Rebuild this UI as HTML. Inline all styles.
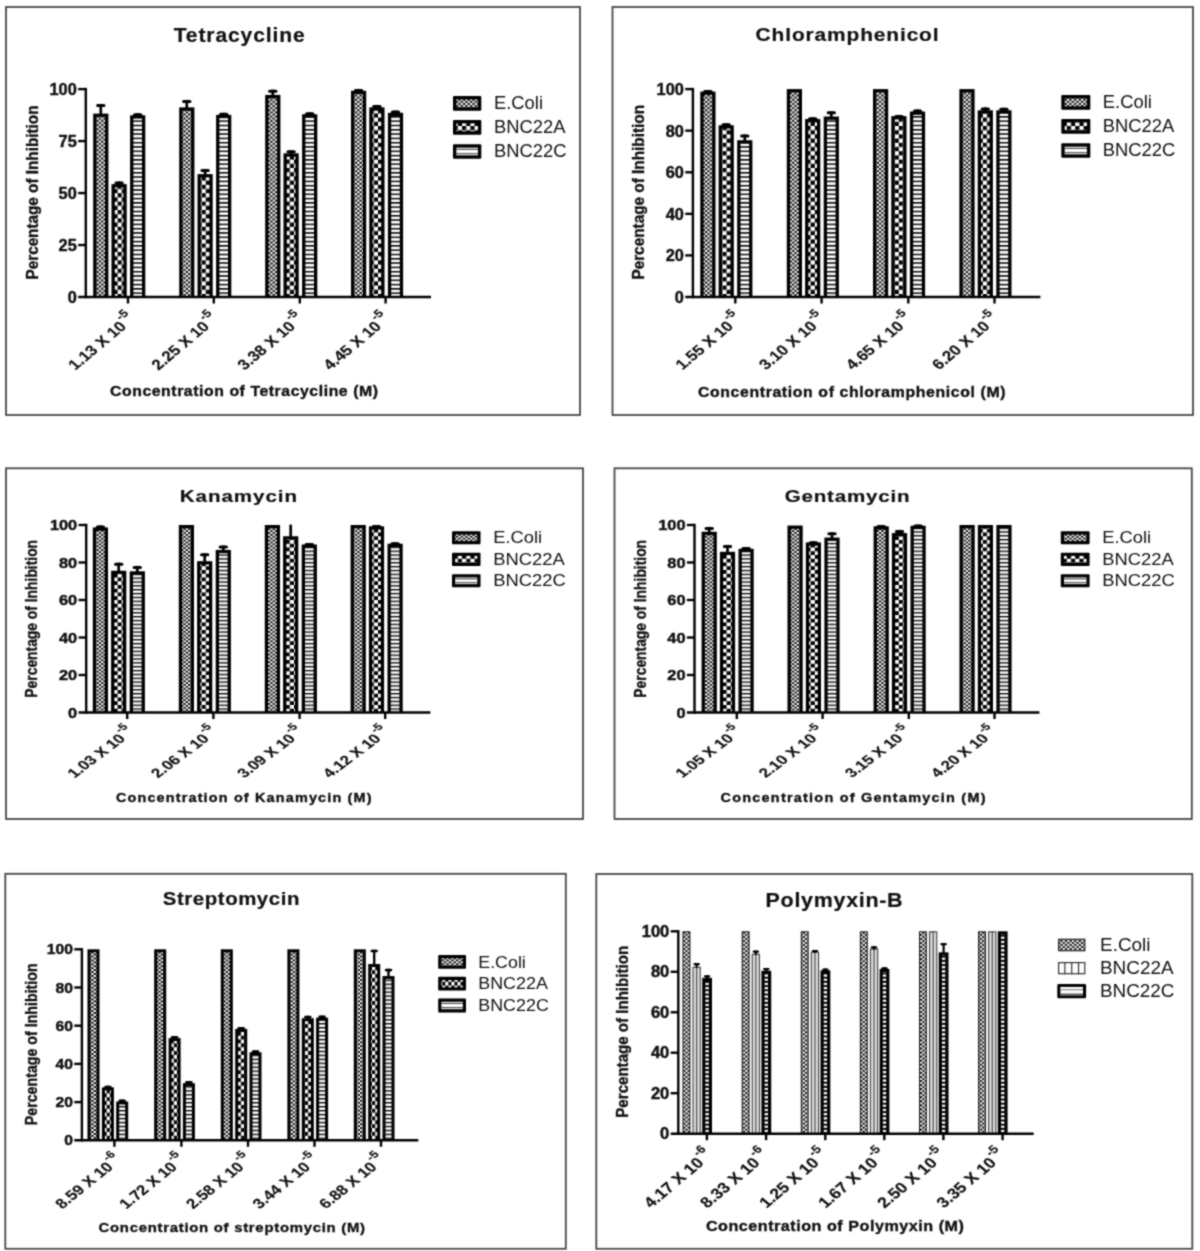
<!DOCTYPE html>
<html><head><meta charset="utf-8"><title>Antibiotic inhibition charts</title>
<style>html,body{margin:0;padding:0;background:#fff}svg{display:block}text{font-family:"Liberation Sans", sans-serif;fill:#111}</style></head><body>
<svg width="1200" height="1251" viewBox="0 0 1200 1251">
<defs>
<pattern id="p_fine" width="4.3" height="4.3" patternUnits="userSpaceOnUse"><rect width="4.3" height="4.3" fill="#fff"/><rect x="0" y="0" width="2.15" height="2.15" fill="#111"/><rect x="2.15" y="2.15" width="2.15" height="2.15" fill="#111"/></pattern>
<pattern id="p_fine2" width="2.6" height="2.6" patternUnits="userSpaceOnUse"><rect width="2.6" height="2.6" fill="#fff"/><rect x="0" y="0" width="1.3" height="1.3" fill="#222"/><rect x="1.3" y="1.3" width="1.3" height="1.3" fill="#222"/></pattern>
<pattern id="p_big" width="8.4" height="8.4" patternUnits="userSpaceOnUse"><rect width="8.4" height="8.4" fill="#fff"/><rect x="0" y="0" width="4.2" height="4.2" fill="#000"/><rect x="4.2" y="4.2" width="4.2" height="4.2" fill="#000"/></pattern>
<pattern id="p_hstripe" width="8" height="4.3" patternUnits="userSpaceOnUse"><rect width="8" height="4.3" fill="#fff"/><rect x="0" y="0" width="8" height="1.5" fill="#000"/></pattern>
<pattern id="p_hstripe_l" width="8" height="2.6" patternUnits="userSpaceOnUse"><rect width="8" height="2.6" fill="#fff"/><rect x="0" y="0" width="8" height="1.0" fill="#333"/></pattern>
<pattern id="p_dash" width="6" height="4.2" patternUnits="userSpaceOnUse"><rect width="6" height="4.2" fill="#000"/><rect x="0" y="0" width="6" height="2.3" fill="#fff"/></pattern>
<pattern id="p_fine_0" width="4.7" height="4.2" patternUnits="userSpaceOnUse"><rect width="4.7" height="4.2" fill="#fff"/><rect width="2.35" height="2.1" fill="#111"/><rect x="2.35" y="2.1" width="2.35" height="2.1" fill="#111"/></pattern>
<pattern id="p_big_0" x="0" y="0" width="8.4" height="8.4" patternUnits="userSpaceOnUse"><rect width="8.4" height="8.4" fill="#fff"/><rect width="4.2" height="4.2" fill="#000"/><rect x="4.2" y="4.2" width="4.2" height="4.2" fill="#000"/></pattern>
<pattern id="p_hstripe_0" width="8" height="4.3" patternUnits="userSpaceOnUse"><rect width="8" height="4.3" fill="#fff"/><rect width="8" height="1.5" fill="#000"/></pattern>
<pattern id="p_fine_1" width="4.7" height="4.2" patternUnits="userSpaceOnUse"><rect width="4.7" height="4.2" fill="#fff"/><rect width="2.35" height="2.1" fill="#111"/><rect x="2.35" y="2.1" width="2.35" height="2.1" fill="#111"/></pattern>
<pattern id="p_big_1" x="0" y="0" width="8.4" height="8.4" patternUnits="userSpaceOnUse"><rect width="8.4" height="8.4" fill="#fff"/><rect width="4.2" height="4.2" fill="#000"/><rect x="4.2" y="4.2" width="4.2" height="4.2" fill="#000"/></pattern>
<pattern id="p_hstripe_1" width="8" height="4.3" patternUnits="userSpaceOnUse"><rect width="8" height="4.3" fill="#fff"/><rect width="8" height="1.5" fill="#000"/></pattern>
<pattern id="p_fine_2" width="4.7" height="3.8" patternUnits="userSpaceOnUse"><rect width="4.7" height="3.8" fill="#fff"/><rect width="2.35" height="1.9" fill="#111"/><rect x="2.35" y="1.9" width="2.35" height="1.9" fill="#111"/></pattern>
<pattern id="p_big_2" x="0" y="0" width="8.4" height="7.5" patternUnits="userSpaceOnUse"><rect width="8.4" height="7.5" fill="#fff"/><rect width="4.2" height="3.75" fill="#000"/><rect x="4.2" y="3.75" width="4.2" height="3.75" fill="#000"/></pattern>
<pattern id="p_hstripe_2" width="8" height="3.85" patternUnits="userSpaceOnUse"><rect width="8" height="3.85" fill="#fff"/><rect width="8" height="1.35" fill="#000"/></pattern>
<pattern id="p_fine_3" width="4.7" height="3.8" patternUnits="userSpaceOnUse"><rect width="4.7" height="3.8" fill="#fff"/><rect width="2.35" height="1.9" fill="#111"/><rect x="2.35" y="1.9" width="2.35" height="1.9" fill="#111"/></pattern>
<pattern id="p_big_3" x="0" y="0" width="8.4" height="7.5" patternUnits="userSpaceOnUse"><rect width="8.4" height="7.5" fill="#fff"/><rect width="4.2" height="3.75" fill="#000"/><rect x="4.2" y="3.75" width="4.2" height="3.75" fill="#000"/></pattern>
<pattern id="p_hstripe_3" width="8" height="3.85" patternUnits="userSpaceOnUse"><rect width="8" height="3.85" fill="#fff"/><rect width="8" height="1.35" fill="#000"/></pattern>
<pattern id="p_fine_4" width="4.8" height="3.9" patternUnits="userSpaceOnUse"><rect width="4.8" height="3.9" fill="#fff"/><rect width="2.4" height="1.95" fill="#111"/><rect x="2.4" y="1.95" width="2.4" height="1.95" fill="#111"/></pattern>
<pattern id="p_big_4" x="0" y="0" width="6.1" height="7.7" patternUnits="userSpaceOnUse"><rect width="6.1" height="7.7" fill="#fff"/><rect width="3.05" height="3.85" fill="#000"/><rect x="3.05" y="3.85" width="3.05" height="3.85" fill="#000"/></pattern>
<pattern id="p_hstripe_4" width="8" height="3.95" patternUnits="userSpaceOnUse"><rect width="8" height="3.95" fill="#fff"/><rect width="8" height="1.4" fill="#000"/></pattern>
<pattern id="p_fine_5" width="4.6" height="4.06" patternUnits="userSpaceOnUse"><rect width="4.6" height="4.06" fill="#fff"/><rect width="2.3" height="2.03" fill="#111"/><rect x="2.3" y="2.03" width="2.3" height="2.03" fill="#111"/></pattern>
<pattern id="p_big_5" x="0" y="0" width="8.4" height="8.4" patternUnits="userSpaceOnUse"><rect width="8.4" height="8.4" fill="#fff"/><rect width="4.2" height="4.2" fill="#000"/><rect x="4.2" y="4.2" width="4.2" height="4.2" fill="#000"/></pattern>
<pattern id="p_hstripe_5" width="8" height="4.3" patternUnits="userSpaceOnUse"><rect width="8" height="4.3" fill="#fff"/><rect width="8" height="1.5" fill="#000"/></pattern>
<filter id="bl" color-interpolation-filters="sRGB" filterUnits="userSpaceOnUse" x="0" y="0" width="1200" height="1251"><feConvolveMatrix order="3" kernelMatrix="1 2 1 2 8 2 1 2 1" divisor="20" edgeMode="duplicate" preserveAlpha="false"/></filter>
</defs>
<rect width="1200" height="1251" fill="#fff"/>
<g filter="url(#bl)">
<rect x="6" y="7" width="574" height="408" fill="#fff" stroke="#484848" stroke-width="1.8"/>
<g transform="translate(173.70,41.60) scale(1.07,1)"><text x="0.00" y="0.00" font-size="19.7" font-weight="bold" text-anchor="start" textLength="122.43" lengthAdjust="spacing" stroke="#111" stroke-width="0.2">Tetracycline</text></g>
<rect x="93.20" y="113.63" width="15.20" height="183.37" fill="#000"/>
<rect x="96.50" y="116.93" width="8.60" height="180.07" fill="url(#p_fine_0)"/>
<line x1="100.80" y1="114.63" x2="100.80" y2="104.07" stroke="#000" stroke-width="2.7"/>
<line x1="97.65" y1="105.57" x2="103.95" y2="105.57" stroke="#000" stroke-width="3.0" stroke-linecap="round"/>
<rect x="111.50" y="184.11" width="15.20" height="112.89" fill="#000"/>
<rect x="114.80" y="187.41" width="8.60" height="109.59" fill="url(#p_big_0)"/>
<line x1="119.10" y1="185.11" x2="119.10" y2="181.41" stroke="#000" stroke-width="2.7"/>
<line x1="115.95" y1="182.91" x2="122.25" y2="182.91" stroke="#000" stroke-width="3.0" stroke-linecap="round"/>
<rect x="130.10" y="115.30" width="15.20" height="181.70" fill="#000"/>
<rect x="133.40" y="118.60" width="8.60" height="178.40" fill="url(#p_hstripe_0)"/>
<line x1="137.70" y1="116.30" x2="137.70" y2="113.22" stroke="#000" stroke-width="2.7"/>
<line x1="134.55" y1="114.72" x2="140.85" y2="114.72" stroke="#000" stroke-width="3.0" stroke-linecap="round"/>
<rect x="179.20" y="107.40" width="15.20" height="189.60" fill="#000"/>
<rect x="182.50" y="110.70" width="8.60" height="186.30" fill="url(#p_fine_0)"/>
<line x1="186.80" y1="108.40" x2="186.80" y2="99.91" stroke="#000" stroke-width="2.7"/>
<line x1="183.65" y1="101.41" x2="189.95" y2="101.41" stroke="#000" stroke-width="3.0" stroke-linecap="round"/>
<rect x="197.50" y="174.13" width="15.20" height="122.87" fill="#000"/>
<rect x="200.80" y="177.43" width="8.60" height="119.57" fill="url(#p_big_0)"/>
<line x1="205.10" y1="175.13" x2="205.10" y2="168.93" stroke="#000" stroke-width="2.7"/>
<line x1="201.95" y1="170.43" x2="208.25" y2="170.43" stroke="#000" stroke-width="3.0" stroke-linecap="round"/>
<rect x="216.10" y="114.88" width="15.20" height="182.12" fill="#000"/>
<rect x="219.40" y="118.18" width="8.60" height="178.82" fill="url(#p_hstripe_0)"/>
<line x1="223.70" y1="115.88" x2="223.70" y2="112.80" stroke="#000" stroke-width="2.7"/>
<line x1="220.55" y1="114.30" x2="226.85" y2="114.30" stroke="#000" stroke-width="3.0" stroke-linecap="round"/>
<rect x="265.20" y="94.92" width="15.20" height="202.08" fill="#000"/>
<rect x="268.50" y="98.22" width="8.60" height="198.78" fill="url(#p_fine_0)"/>
<line x1="272.80" y1="95.92" x2="272.80" y2="89.72" stroke="#000" stroke-width="2.7"/>
<line x1="269.65" y1="91.22" x2="275.95" y2="91.22" stroke="#000" stroke-width="3.0" stroke-linecap="round"/>
<rect x="283.50" y="153.34" width="15.20" height="143.66" fill="#000"/>
<rect x="286.80" y="156.64" width="8.60" height="140.36" fill="url(#p_big_0)"/>
<line x1="291.10" y1="154.34" x2="291.10" y2="150.22" stroke="#000" stroke-width="2.7"/>
<line x1="287.95" y1="151.72" x2="294.25" y2="151.72" stroke="#000" stroke-width="3.0" stroke-linecap="round"/>
<rect x="302.10" y="114.26" width="15.20" height="182.74" fill="#000"/>
<rect x="305.40" y="117.56" width="8.60" height="179.44" fill="url(#p_hstripe_0)"/>
<line x1="309.70" y1="115.26" x2="309.70" y2="112.18" stroke="#000" stroke-width="2.7"/>
<line x1="306.55" y1="113.68" x2="312.85" y2="113.68" stroke="#000" stroke-width="3.0" stroke-linecap="round"/>
<rect x="351.00" y="90.76" width="15.20" height="206.24" fill="#000"/>
<rect x="354.30" y="94.06" width="8.60" height="202.94" fill="url(#p_fine_0)"/>
<line x1="358.60" y1="91.76" x2="358.60" y2="88.89" stroke="#000" stroke-width="2.7"/>
<line x1="355.45" y1="90.39" x2="361.75" y2="90.39" stroke="#000" stroke-width="3.0" stroke-linecap="round"/>
<rect x="369.30" y="107.40" width="15.20" height="189.60" fill="#000"/>
<rect x="372.60" y="110.70" width="8.60" height="186.30" fill="url(#p_big_0)"/>
<line x1="376.90" y1="108.40" x2="376.90" y2="104.90" stroke="#000" stroke-width="2.7"/>
<line x1="373.75" y1="106.40" x2="380.05" y2="106.40" stroke="#000" stroke-width="3.0" stroke-linecap="round"/>
<rect x="387.90" y="112.80" width="15.20" height="184.20" fill="#000"/>
<rect x="391.20" y="116.10" width="8.60" height="180.90" fill="url(#p_hstripe_0)"/>
<line x1="395.50" y1="113.80" x2="395.50" y2="110.51" stroke="#000" stroke-width="2.7"/>
<line x1="392.35" y1="112.01" x2="398.65" y2="112.01" stroke="#000" stroke-width="3.0" stroke-linecap="round"/>
<line x1="85.80" y1="87.90" x2="85.80" y2="298.20" stroke="#000" stroke-width="2.4"/>
<line x1="78.20" y1="297.00" x2="431.00" y2="297.00" stroke="#000" stroke-width="2.4"/>
<text x="76.80" y="302.90" font-size="16.8" font-weight="bold" text-anchor="end" textLength="9.10" lengthAdjust="spacingAndGlyphs" stroke="#111" stroke-width="0.45">0</text>
<line x1="78.20" y1="245.03" x2="85.80" y2="245.03" stroke="#000" stroke-width="2.4"/>
<text x="76.80" y="250.93" font-size="16.8" font-weight="bold" text-anchor="end" textLength="18.20" lengthAdjust="spacingAndGlyphs" stroke="#111" stroke-width="0.45">25</text>
<line x1="78.20" y1="193.05" x2="85.80" y2="193.05" stroke="#000" stroke-width="2.4"/>
<text x="76.80" y="198.95" font-size="16.8" font-weight="bold" text-anchor="end" textLength="18.20" lengthAdjust="spacingAndGlyphs" stroke="#111" stroke-width="0.45">50</text>
<line x1="78.20" y1="141.07" x2="85.80" y2="141.07" stroke="#000" stroke-width="2.4"/>
<text x="76.80" y="146.97" font-size="16.8" font-weight="bold" text-anchor="end" textLength="18.20" lengthAdjust="spacingAndGlyphs" stroke="#111" stroke-width="0.45">75</text>
<line x1="78.20" y1="89.10" x2="85.80" y2="89.10" stroke="#000" stroke-width="2.4"/>
<text x="76.80" y="95.00" font-size="16.8" font-weight="bold" text-anchor="end" textLength="27.30" lengthAdjust="spacingAndGlyphs" stroke="#111" stroke-width="0.45">100</text>
<line x1="128.00" y1="297.00" x2="128.00" y2="303.50" stroke="#000" stroke-width="2.4"/>
<g transform="translate(136.10,319.70) scale(1.19,1) rotate(-45)">
<text x="0" y="0" font-size="14.4" font-weight="bold" stroke="#111" stroke-width="0.15" text-anchor="end">1.13 X 10<tspan font-size="11" dx="0.9" dy="-8.35">-5</tspan></text>
</g>
<line x1="213.80" y1="297.00" x2="213.80" y2="303.50" stroke="#000" stroke-width="2.4"/>
<g transform="translate(219.30,319.70) scale(1.19,1) rotate(-45)">
<text x="0" y="0" font-size="14.4" font-weight="bold" stroke="#111" stroke-width="0.15" text-anchor="end">2.25 X 10<tspan font-size="11" dx="0.9" dy="-8.35">-5</tspan></text>
</g>
<line x1="299.80" y1="297.00" x2="299.80" y2="303.50" stroke="#000" stroke-width="2.4"/>
<g transform="translate(305.30,319.70) scale(1.19,1) rotate(-45)">
<text x="0" y="0" font-size="14.4" font-weight="bold" stroke="#111" stroke-width="0.15" text-anchor="end">3.38 X 10<tspan font-size="11" dx="0.9" dy="-8.35">-5</tspan></text>
</g>
<line x1="385.60" y1="297.00" x2="385.60" y2="303.50" stroke="#000" stroke-width="2.4"/>
<g transform="translate(391.10,319.70) scale(1.19,1) rotate(-45)">
<text x="0" y="0" font-size="14.4" font-weight="bold" stroke="#111" stroke-width="0.15" text-anchor="end">4.45 X 10<tspan font-size="11" dx="0.9" dy="-8.35">-5</tspan></text>
</g>
<g transform="translate(37.60,192.50) rotate(-90)"><text x="0.00" y="0.00" font-size="15.6" font-weight="bold" text-anchor="middle" textLength="174.00" lengthAdjust="spacingAndGlyphs" stroke="#111" stroke-width="0.35">Percentage of Inhibition</text></g>
<g transform="translate(110.00,396.40) scale(1.13,1)"><text x="0.00" y="0.00" font-size="14.0" font-weight="bold" text-anchor="start" textLength="237.17" lengthAdjust="spacing" stroke="#111" stroke-width="0.35">Concentration of Tetracycline (M)</text></g>
<rect x="453.00" y="96.00" width="28.30" height="14.70" rx="1" fill="#000"/>
<rect x="456.40" y="99.40" width="21.50" height="7.90" fill="url(#p_fine_0)"/>
<text x="494.00" y="109.30" font-size="17.7" font-weight="normal" text-anchor="start" textLength="49.00" lengthAdjust="spacingAndGlyphs">E.Coli</text>
<rect x="453.00" y="120.00" width="28.30" height="14.70" rx="1" fill="#000"/>
<rect x="456.40" y="123.40" width="21.50" height="7.90" fill="url(#p_big_0)"/>
<text x="494.00" y="133.30" font-size="17.7" font-weight="normal" text-anchor="start" textLength="71.50" lengthAdjust="spacingAndGlyphs">BNC22A</text>
<rect x="453.00" y="144.30" width="28.30" height="14.40" rx="1" fill="#000"/>
<rect x="456.40" y="147.70" width="21.50" height="7.60" fill="#fff"/>
<line x1="456.40" y1="149.37" x2="477.90" y2="149.37" stroke="#444" stroke-width="1.1"/>
<line x1="456.40" y1="153.63" x2="477.90" y2="153.63" stroke="#444" stroke-width="1.1"/>
<text x="494.00" y="157.30" font-size="17.7" font-weight="normal" text-anchor="start" textLength="72.50" lengthAdjust="spacingAndGlyphs">BNC22C</text>
<rect x="612.5" y="7" width="580.5" height="408" fill="#fff" stroke="#484848" stroke-width="1.8"/>
<g transform="translate(755.60,40.50) scale(1.1,1)"><text x="0.00" y="0.00" font-size="19" font-weight="bold" text-anchor="start" textLength="166.36" lengthAdjust="spacing" stroke="#111" stroke-width="0.2">Chloramphenicol</text></g>
<rect x="700.30" y="91.59" width="15.20" height="205.41" fill="#000"/>
<rect x="703.60" y="94.89" width="8.60" height="202.11" fill="url(#p_fine_1)"/>
<line x1="707.90" y1="92.59" x2="707.90" y2="89.93" stroke="#000" stroke-width="2.7"/>
<line x1="704.75" y1="91.43" x2="711.05" y2="91.43" stroke="#000" stroke-width="3.0" stroke-linecap="round"/>
<rect x="718.60" y="125.27" width="15.20" height="171.73" fill="#000"/>
<rect x="721.90" y="128.57" width="8.60" height="168.43" fill="url(#p_big_1)"/>
<line x1="726.20" y1="126.27" x2="726.20" y2="123.20" stroke="#000" stroke-width="2.7"/>
<line x1="723.05" y1="124.70" x2="729.35" y2="124.70" stroke="#000" stroke-width="3.0" stroke-linecap="round"/>
<rect x="737.20" y="140.24" width="15.20" height="156.76" fill="#000"/>
<rect x="740.50" y="143.54" width="8.60" height="153.46" fill="url(#p_hstripe_1)"/>
<line x1="744.80" y1="141.24" x2="744.80" y2="134.42" stroke="#000" stroke-width="2.7"/>
<line x1="741.65" y1="135.92" x2="747.95" y2="135.92" stroke="#000" stroke-width="3.0" stroke-linecap="round"/>
<rect x="786.80" y="89.10" width="15.20" height="207.90" fill="#000"/>
<rect x="790.10" y="92.40" width="8.60" height="204.60" fill="url(#p_fine_1)"/>
<rect x="805.10" y="119.04" width="15.20" height="177.96" fill="#000"/>
<rect x="808.40" y="122.34" width="8.60" height="174.66" fill="url(#p_big_1)"/>
<line x1="812.70" y1="120.04" x2="812.70" y2="117.37" stroke="#000" stroke-width="2.7"/>
<line x1="809.55" y1="118.87" x2="815.85" y2="118.87" stroke="#000" stroke-width="3.0" stroke-linecap="round"/>
<rect x="823.70" y="116.54" width="15.20" height="180.46" fill="#000"/>
<rect x="827.00" y="119.84" width="8.60" height="177.16" fill="url(#p_hstripe_1)"/>
<line x1="831.30" y1="117.54" x2="831.30" y2="111.35" stroke="#000" stroke-width="2.7"/>
<line x1="828.15" y1="112.85" x2="834.45" y2="112.85" stroke="#000" stroke-width="3.0" stroke-linecap="round"/>
<rect x="873.00" y="89.10" width="15.20" height="207.90" fill="#000"/>
<rect x="876.30" y="92.40" width="8.60" height="204.60" fill="url(#p_fine_1)"/>
<rect x="891.30" y="116.13" width="15.20" height="180.87" fill="#000"/>
<rect x="894.60" y="119.43" width="8.60" height="177.57" fill="url(#p_big_1)"/>
<line x1="898.90" y1="117.13" x2="898.90" y2="114.88" stroke="#000" stroke-width="2.7"/>
<line x1="895.75" y1="116.38" x2="902.05" y2="116.38" stroke="#000" stroke-width="3.0" stroke-linecap="round"/>
<rect x="909.90" y="111.55" width="15.20" height="185.45" fill="#000"/>
<rect x="913.20" y="114.85" width="8.60" height="182.15" fill="url(#p_hstripe_1)"/>
<line x1="917.50" y1="112.55" x2="917.50" y2="109.47" stroke="#000" stroke-width="2.7"/>
<line x1="914.35" y1="110.97" x2="920.65" y2="110.97" stroke="#000" stroke-width="3.0" stroke-linecap="round"/>
<rect x="959.40" y="89.10" width="15.20" height="207.90" fill="#000"/>
<rect x="962.70" y="92.40" width="8.60" height="204.60" fill="url(#p_fine_1)"/>
<rect x="977.70" y="110.31" width="15.20" height="186.69" fill="#000"/>
<rect x="981.00" y="113.61" width="8.60" height="183.39" fill="url(#p_big_1)"/>
<line x1="985.30" y1="111.31" x2="985.30" y2="107.40" stroke="#000" stroke-width="2.7"/>
<line x1="982.15" y1="108.90" x2="988.45" y2="108.90" stroke="#000" stroke-width="3.0" stroke-linecap="round"/>
<rect x="996.30" y="110.31" width="15.20" height="186.69" fill="#000"/>
<rect x="999.60" y="113.61" width="8.60" height="183.39" fill="url(#p_hstripe_1)"/>
<line x1="1003.90" y1="111.31" x2="1003.90" y2="107.81" stroke="#000" stroke-width="2.7"/>
<line x1="1000.75" y1="109.31" x2="1007.05" y2="109.31" stroke="#000" stroke-width="3.0" stroke-linecap="round"/>
<line x1="692.90" y1="87.90" x2="692.90" y2="298.20" stroke="#000" stroke-width="2.4"/>
<line x1="685.30" y1="297.00" x2="1040.40" y2="297.00" stroke="#000" stroke-width="2.4"/>
<text x="683.90" y="302.90" font-size="16.8" font-weight="bold" text-anchor="end" textLength="9.10" lengthAdjust="spacingAndGlyphs" stroke="#111" stroke-width="0.45">0</text>
<line x1="685.30" y1="255.42" x2="692.90" y2="255.42" stroke="#000" stroke-width="2.4"/>
<text x="683.90" y="261.32" font-size="16.8" font-weight="bold" text-anchor="end" textLength="18.20" lengthAdjust="spacingAndGlyphs" stroke="#111" stroke-width="0.45">20</text>
<line x1="685.30" y1="213.84" x2="692.90" y2="213.84" stroke="#000" stroke-width="2.4"/>
<text x="683.90" y="219.74" font-size="16.8" font-weight="bold" text-anchor="end" textLength="18.20" lengthAdjust="spacingAndGlyphs" stroke="#111" stroke-width="0.45">40</text>
<line x1="685.30" y1="172.26" x2="692.90" y2="172.26" stroke="#000" stroke-width="2.4"/>
<text x="683.90" y="178.16" font-size="16.8" font-weight="bold" text-anchor="end" textLength="18.20" lengthAdjust="spacingAndGlyphs" stroke="#111" stroke-width="0.45">60</text>
<line x1="685.30" y1="130.68" x2="692.90" y2="130.68" stroke="#000" stroke-width="2.4"/>
<text x="683.90" y="136.58" font-size="16.8" font-weight="bold" text-anchor="end" textLength="18.20" lengthAdjust="spacingAndGlyphs" stroke="#111" stroke-width="0.45">80</text>
<line x1="685.30" y1="89.10" x2="692.90" y2="89.10" stroke="#000" stroke-width="2.4"/>
<text x="683.90" y="95.00" font-size="16.8" font-weight="bold" text-anchor="end" textLength="27.30" lengthAdjust="spacingAndGlyphs" stroke="#111" stroke-width="0.45">100</text>
<line x1="735.30" y1="297.00" x2="735.30" y2="303.50" stroke="#000" stroke-width="2.4"/>
<g transform="translate(743.20,319.50) scale(1.19,1) rotate(-45)">
<text x="0" y="0" font-size="14.4" font-weight="bold" stroke="#111" stroke-width="0.15" text-anchor="end">1.55 X 10<tspan font-size="11" dx="0.9" dy="-8.35">-5</tspan></text>
</g>
<line x1="821.60" y1="297.00" x2="821.60" y2="303.50" stroke="#000" stroke-width="2.4"/>
<g transform="translate(826.90,319.50) scale(1.19,1) rotate(-45)">
<text x="0" y="0" font-size="14.4" font-weight="bold" stroke="#111" stroke-width="0.15" text-anchor="end">3.10 X 10<tspan font-size="11" dx="0.9" dy="-8.35">-5</tspan></text>
</g>
<line x1="908.30" y1="297.00" x2="908.30" y2="303.50" stroke="#000" stroke-width="2.4"/>
<g transform="translate(913.60,319.50) scale(1.19,1) rotate(-45)">
<text x="0" y="0" font-size="14.4" font-weight="bold" stroke="#111" stroke-width="0.15" text-anchor="end">4.65 X 10<tspan font-size="11" dx="0.9" dy="-8.35">-5</tspan></text>
</g>
<line x1="994.50" y1="297.00" x2="994.50" y2="303.50" stroke="#000" stroke-width="2.4"/>
<g transform="translate(999.80,319.50) scale(1.19,1) rotate(-45)">
<text x="0" y="0" font-size="14.4" font-weight="bold" stroke="#111" stroke-width="0.15" text-anchor="end">6.20 X 10<tspan font-size="11" dx="0.9" dy="-8.35">-5</tspan></text>
</g>
<g transform="translate(643.70,192.30) rotate(-90)"><text x="0.00" y="0.00" font-size="15.6" font-weight="bold" text-anchor="middle" textLength="174.60" lengthAdjust="spacingAndGlyphs" stroke="#111" stroke-width="0.35">Percentage of Inhibition</text></g>
<g transform="translate(698.00,396.50) scale(1.13,1)"><text x="0.00" y="0.00" font-size="14.0" font-weight="bold" text-anchor="start" textLength="272.12" lengthAdjust="spacing" stroke="#111" stroke-width="0.35">Concentration of chloramphenicol (M)</text></g>
<rect x="1061.30" y="95.00" width="29.00" height="14.70" rx="1" fill="#000"/>
<rect x="1064.70" y="98.40" width="22.20" height="7.90" fill="url(#p_fine_1)"/>
<text x="1102.80" y="108.30" font-size="17.7" font-weight="normal" text-anchor="start" textLength="49.00" lengthAdjust="spacingAndGlyphs">E.Coli</text>
<rect x="1061.30" y="119.00" width="29.00" height="14.70" rx="1" fill="#000"/>
<rect x="1064.70" y="122.40" width="22.20" height="7.90" fill="url(#p_big_1)"/>
<text x="1102.80" y="132.30" font-size="17.7" font-weight="normal" text-anchor="start" textLength="71.50" lengthAdjust="spacingAndGlyphs">BNC22A</text>
<rect x="1061.30" y="143.30" width="29.00" height="14.40" rx="1" fill="#000"/>
<rect x="1064.70" y="146.70" width="22.20" height="7.60" fill="#fff"/>
<line x1="1064.70" y1="148.37" x2="1086.90" y2="148.37" stroke="#444" stroke-width="1.1"/>
<line x1="1064.70" y1="152.63" x2="1086.90" y2="152.63" stroke="#444" stroke-width="1.1"/>
<text x="1102.80" y="156.30" font-size="17.7" font-weight="normal" text-anchor="start" textLength="72.50" lengthAdjust="spacingAndGlyphs">BNC22C</text>
<rect x="6" y="468.3" width="577" height="350.7" fill="#fff" stroke="#484848" stroke-width="1.8"/>
<g transform="translate(179.80,502.10) scale(1.24,1)"><text x="0.00" y="0.00" font-size="16.6" font-weight="bold" text-anchor="start" textLength="94.60" lengthAdjust="spacing" stroke="#111" stroke-width="0.2">Kanamycin</text></g>
<rect x="92.80" y="527.44" width="15.20" height="185.06" fill="#000"/>
<rect x="96.10" y="530.74" width="8.60" height="181.76" fill="url(#p_fine_2)"/>
<line x1="100.40" y1="528.44" x2="100.40" y2="525.38" stroke="#000" stroke-width="2.7"/>
<line x1="97.25" y1="526.88" x2="103.55" y2="526.88" stroke="#000" stroke-width="3.0" stroke-linecap="round"/>
<rect x="111.10" y="570.75" width="15.20" height="141.75" fill="#000"/>
<rect x="114.40" y="574.05" width="8.60" height="138.45" fill="url(#p_big_2)"/>
<line x1="118.70" y1="571.75" x2="118.70" y2="562.69" stroke="#000" stroke-width="2.7"/>
<line x1="115.55" y1="564.19" x2="121.85" y2="564.19" stroke="#000" stroke-width="3.0" stroke-linecap="round"/>
<rect x="129.70" y="571.31" width="15.20" height="141.19" fill="#000"/>
<rect x="133.00" y="574.61" width="8.60" height="137.89" fill="url(#p_hstripe_2)"/>
<line x1="137.30" y1="572.31" x2="137.30" y2="565.88" stroke="#000" stroke-width="2.7"/>
<line x1="134.15" y1="567.38" x2="140.45" y2="567.38" stroke="#000" stroke-width="3.0" stroke-linecap="round"/>
<rect x="178.80" y="525.00" width="15.20" height="187.50" fill="#000"/>
<rect x="182.10" y="528.30" width="8.60" height="184.20" fill="url(#p_fine_2)"/>
<rect x="197.10" y="561.19" width="15.20" height="151.31" fill="#000"/>
<rect x="200.40" y="564.49" width="8.60" height="148.01" fill="url(#p_big_2)"/>
<line x1="204.70" y1="562.19" x2="204.70" y2="553.31" stroke="#000" stroke-width="2.7"/>
<line x1="201.55" y1="554.81" x2="207.85" y2="554.81" stroke="#000" stroke-width="3.0" stroke-linecap="round"/>
<rect x="215.70" y="549.94" width="15.20" height="162.56" fill="#000"/>
<rect x="219.00" y="553.24" width="8.60" height="159.26" fill="url(#p_hstripe_2)"/>
<line x1="223.30" y1="550.94" x2="223.30" y2="545.62" stroke="#000" stroke-width="2.7"/>
<line x1="220.15" y1="547.12" x2="226.45" y2="547.12" stroke="#000" stroke-width="3.0" stroke-linecap="round"/>
<rect x="264.80" y="525.00" width="15.20" height="187.50" fill="#000"/>
<rect x="268.10" y="528.30" width="8.60" height="184.20" fill="url(#p_fine_2)"/>
<rect x="283.10" y="536.25" width="15.20" height="176.25" fill="#000"/>
<rect x="286.40" y="539.55" width="8.60" height="172.95" fill="url(#p_big_2)"/>
<line x1="290.70" y1="537.25" x2="290.70" y2="524.62" stroke="#000" stroke-width="2.7"/>
<rect x="301.70" y="544.50" width="15.20" height="168.00" fill="#000"/>
<rect x="305.00" y="547.80" width="8.60" height="164.70" fill="url(#p_hstripe_2)"/>
<line x1="309.30" y1="545.50" x2="309.30" y2="543.00" stroke="#000" stroke-width="2.7"/>
<line x1="306.15" y1="544.50" x2="312.45" y2="544.50" stroke="#000" stroke-width="3.0" stroke-linecap="round"/>
<rect x="350.60" y="525.00" width="15.20" height="187.50" fill="#000"/>
<rect x="353.90" y="528.30" width="8.60" height="184.20" fill="url(#p_fine_2)"/>
<rect x="368.90" y="526.31" width="15.20" height="186.19" fill="#000"/>
<rect x="372.20" y="529.61" width="8.60" height="182.89" fill="url(#p_big_2)"/>
<line x1="376.50" y1="527.31" x2="376.50" y2="525.00" stroke="#000" stroke-width="2.7"/>
<line x1="373.35" y1="526.50" x2="379.65" y2="526.50" stroke="#000" stroke-width="3.0" stroke-linecap="round"/>
<rect x="387.50" y="543.75" width="15.20" height="168.75" fill="#000"/>
<rect x="390.80" y="547.05" width="8.60" height="165.45" fill="url(#p_hstripe_2)"/>
<line x1="395.10" y1="544.75" x2="395.10" y2="542.25" stroke="#000" stroke-width="2.7"/>
<line x1="391.95" y1="543.75" x2="398.25" y2="543.75" stroke="#000" stroke-width="3.0" stroke-linecap="round"/>
<line x1="86.20" y1="523.80" x2="86.20" y2="713.70" stroke="#000" stroke-width="2.4"/>
<line x1="78.60" y1="712.50" x2="430.40" y2="712.50" stroke="#000" stroke-width="2.4"/>
<text x="77.20" y="717.60" font-size="14.6" font-weight="bold" text-anchor="end" textLength="9.10" lengthAdjust="spacingAndGlyphs" stroke="#111" stroke-width="0.45">0</text>
<line x1="78.60" y1="675.00" x2="86.20" y2="675.00" stroke="#000" stroke-width="2.4"/>
<text x="77.20" y="680.10" font-size="14.6" font-weight="bold" text-anchor="end" textLength="18.20" lengthAdjust="spacingAndGlyphs" stroke="#111" stroke-width="0.45">20</text>
<line x1="78.60" y1="637.50" x2="86.20" y2="637.50" stroke="#000" stroke-width="2.4"/>
<text x="77.20" y="642.60" font-size="14.6" font-weight="bold" text-anchor="end" textLength="18.20" lengthAdjust="spacingAndGlyphs" stroke="#111" stroke-width="0.45">40</text>
<line x1="78.60" y1="600.00" x2="86.20" y2="600.00" stroke="#000" stroke-width="2.4"/>
<text x="77.20" y="605.10" font-size="14.6" font-weight="bold" text-anchor="end" textLength="18.20" lengthAdjust="spacingAndGlyphs" stroke="#111" stroke-width="0.45">60</text>
<line x1="78.60" y1="562.50" x2="86.20" y2="562.50" stroke="#000" stroke-width="2.4"/>
<text x="77.20" y="567.60" font-size="14.6" font-weight="bold" text-anchor="end" textLength="18.20" lengthAdjust="spacingAndGlyphs" stroke="#111" stroke-width="0.45">80</text>
<line x1="78.60" y1="525.00" x2="86.20" y2="525.00" stroke="#000" stroke-width="2.4"/>
<text x="77.20" y="530.10" font-size="14.6" font-weight="bold" text-anchor="end" textLength="27.30" lengthAdjust="spacingAndGlyphs" stroke="#111" stroke-width="0.45">100</text>
<line x1="127.20" y1="712.50" x2="127.20" y2="719.00" stroke="#000" stroke-width="2.4"/>
<g transform="translate(135.30,732.50) scale(1.19,0.9) rotate(-45)">
<text x="0" y="0" font-size="14.4" font-weight="bold" stroke="#111" stroke-width="0.15" text-anchor="end">1.03 X 10<tspan font-size="11" dx="0.9" dy="-8.35">-5</tspan></text>
</g>
<line x1="213.40" y1="712.50" x2="213.40" y2="719.00" stroke="#000" stroke-width="2.4"/>
<g transform="translate(218.90,732.50) scale(1.19,0.9) rotate(-45)">
<text x="0" y="0" font-size="14.4" font-weight="bold" stroke="#111" stroke-width="0.15" text-anchor="end">2.06 X 10<tspan font-size="11" dx="0.9" dy="-8.35">-5</tspan></text>
</g>
<line x1="299.60" y1="712.50" x2="299.60" y2="719.00" stroke="#000" stroke-width="2.4"/>
<g transform="translate(305.10,732.50) scale(1.19,0.9) rotate(-45)">
<text x="0" y="0" font-size="14.4" font-weight="bold" stroke="#111" stroke-width="0.15" text-anchor="end">3.09 X 10<tspan font-size="11" dx="0.9" dy="-8.35">-5</tspan></text>
</g>
<line x1="385.20" y1="712.50" x2="385.20" y2="719.00" stroke="#000" stroke-width="2.4"/>
<g transform="translate(390.70,732.50) scale(1.19,0.9) rotate(-45)">
<text x="0" y="0" font-size="14.4" font-weight="bold" stroke="#111" stroke-width="0.15" text-anchor="end">4.12 X 10<tspan font-size="11" dx="0.9" dy="-8.35">-5</tspan></text>
</g>
<g transform="translate(37.30,618.80) rotate(-90)"><text x="0.00" y="0.00" font-size="15.6" font-weight="bold" text-anchor="middle" textLength="157.70" lengthAdjust="spacingAndGlyphs" stroke="#111" stroke-width="0.35">Percentage of Inhibition</text></g>
<g transform="translate(115.90,802.00) scale(1.13,1)"><text x="0.00" y="0.00" font-size="12.8" font-weight="bold" text-anchor="start" textLength="226.19" lengthAdjust="spacing" stroke="#111" stroke-width="0.35">Concentration of Kanamycin (M)</text></g>
<rect x="452.00" y="531.30" width="28.50" height="13.00" rx="1" fill="#000"/>
<rect x="455.20" y="534.50" width="22.10" height="6.60" fill="url(#p_fine_2)"/>
<text x="493.20" y="543.00" font-size="15.6" font-weight="normal" text-anchor="start" textLength="49.00" lengthAdjust="spacingAndGlyphs">E.Coli</text>
<rect x="452.00" y="552.70" width="28.50" height="13.20" rx="1" fill="#000"/>
<rect x="455.20" y="555.90" width="22.10" height="6.80" fill="url(#p_big_2)"/>
<text x="493.20" y="564.60" font-size="15.6" font-weight="normal" text-anchor="start" textLength="71.50" lengthAdjust="spacingAndGlyphs">BNC22A</text>
<rect x="452.00" y="574.20" width="28.50" height="13.10" rx="1" fill="#000"/>
<rect x="455.20" y="577.40" width="22.10" height="6.70" fill="#fff"/>
<line x1="455.20" y1="578.87" x2="477.30" y2="578.87" stroke="#444" stroke-width="1.1"/>
<line x1="455.20" y1="582.63" x2="477.30" y2="582.63" stroke="#444" stroke-width="1.1"/>
<text x="493.20" y="586.00" font-size="15.6" font-weight="normal" text-anchor="start" textLength="72.50" lengthAdjust="spacingAndGlyphs">BNC22C</text>
<rect x="614.5" y="468.3" width="577.3" height="350.7" fill="#fff" stroke="#484848" stroke-width="1.8"/>
<g transform="translate(784.70,502.40) scale(1.24,1)"><text x="0.00" y="0.00" font-size="16.6" font-weight="bold" text-anchor="start" textLength="100.81" lengthAdjust="spacing" stroke="#111" stroke-width="0.2">Gentamycin</text></g>
<rect x="701.60" y="531.75" width="15.20" height="180.75" fill="#000"/>
<rect x="704.90" y="535.05" width="8.60" height="177.45" fill="url(#p_fine_3)"/>
<line x1="709.20" y1="532.75" x2="709.20" y2="526.88" stroke="#000" stroke-width="2.7"/>
<line x1="706.05" y1="528.38" x2="712.35" y2="528.38" stroke="#000" stroke-width="3.0" stroke-linecap="round"/>
<rect x="719.90" y="551.81" width="15.20" height="160.69" fill="#000"/>
<rect x="723.20" y="555.11" width="8.60" height="157.39" fill="url(#p_big_3)"/>
<line x1="727.50" y1="552.81" x2="727.50" y2="544.88" stroke="#000" stroke-width="2.7"/>
<line x1="724.35" y1="546.38" x2="730.65" y2="546.38" stroke="#000" stroke-width="3.0" stroke-linecap="round"/>
<rect x="738.50" y="548.81" width="15.20" height="163.69" fill="#000"/>
<rect x="741.80" y="552.11" width="8.60" height="160.39" fill="url(#p_hstripe_3)"/>
<line x1="746.10" y1="549.81" x2="746.10" y2="547.12" stroke="#000" stroke-width="2.7"/>
<line x1="742.95" y1="548.62" x2="749.25" y2="548.62" stroke="#000" stroke-width="3.0" stroke-linecap="round"/>
<rect x="787.50" y="525.56" width="15.20" height="186.94" fill="#000"/>
<rect x="790.80" y="528.86" width="8.60" height="183.64" fill="url(#p_fine_3)"/>
<rect x="805.80" y="542.44" width="15.20" height="170.06" fill="#000"/>
<rect x="809.10" y="545.74" width="8.60" height="166.76" fill="url(#p_big_3)"/>
<line x1="813.40" y1="543.44" x2="813.40" y2="541.31" stroke="#000" stroke-width="2.7"/>
<line x1="810.25" y1="542.81" x2="816.55" y2="542.81" stroke="#000" stroke-width="3.0" stroke-linecap="round"/>
<rect x="824.40" y="537.56" width="15.20" height="174.94" fill="#000"/>
<rect x="827.70" y="540.86" width="8.60" height="171.64" fill="url(#p_hstripe_3)"/>
<line x1="832.00" y1="538.56" x2="832.00" y2="532.31" stroke="#000" stroke-width="2.7"/>
<line x1="828.85" y1="533.81" x2="835.15" y2="533.81" stroke="#000" stroke-width="3.0" stroke-linecap="round"/>
<rect x="873.60" y="526.31" width="15.20" height="186.19" fill="#000"/>
<rect x="876.90" y="529.61" width="8.60" height="182.89" fill="url(#p_fine_3)"/>
<line x1="881.20" y1="527.31" x2="881.20" y2="525.00" stroke="#000" stroke-width="2.7"/>
<line x1="878.05" y1="526.50" x2="884.35" y2="526.50" stroke="#000" stroke-width="3.0" stroke-linecap="round"/>
<rect x="891.90" y="533.06" width="15.20" height="179.44" fill="#000"/>
<rect x="895.20" y="536.36" width="8.60" height="176.14" fill="url(#p_big_3)"/>
<line x1="899.50" y1="534.06" x2="899.50" y2="529.88" stroke="#000" stroke-width="2.7"/>
<line x1="896.35" y1="531.38" x2="902.65" y2="531.38" stroke="#000" stroke-width="3.0" stroke-linecap="round"/>
<rect x="910.50" y="525.75" width="15.20" height="186.75" fill="#000"/>
<rect x="913.80" y="529.05" width="8.60" height="183.45" fill="url(#p_hstripe_3)"/>
<line x1="918.10" y1="526.75" x2="918.10" y2="524.62" stroke="#000" stroke-width="2.7"/>
<line x1="914.95" y1="526.12" x2="921.25" y2="526.12" stroke="#000" stroke-width="3.0" stroke-linecap="round"/>
<rect x="959.50" y="525.00" width="15.20" height="187.50" fill="#000"/>
<rect x="962.80" y="528.30" width="8.60" height="184.20" fill="url(#p_fine_3)"/>
<rect x="977.80" y="525.00" width="15.20" height="187.50" fill="#000"/>
<rect x="981.10" y="528.30" width="8.60" height="184.20" fill="url(#p_big_3)"/>
<rect x="996.40" y="525.00" width="15.20" height="187.50" fill="#000"/>
<rect x="999.70" y="528.30" width="8.60" height="184.20" fill="url(#p_hstripe_3)"/>
<line x1="694.50" y1="523.80" x2="694.50" y2="713.70" stroke="#000" stroke-width="2.4"/>
<line x1="686.90" y1="712.50" x2="1039.40" y2="712.50" stroke="#000" stroke-width="2.4"/>
<text x="685.50" y="717.60" font-size="14.6" font-weight="bold" text-anchor="end" textLength="9.10" lengthAdjust="spacingAndGlyphs" stroke="#111" stroke-width="0.45">0</text>
<line x1="686.90" y1="675.00" x2="694.50" y2="675.00" stroke="#000" stroke-width="2.4"/>
<text x="685.50" y="680.10" font-size="14.6" font-weight="bold" text-anchor="end" textLength="18.20" lengthAdjust="spacingAndGlyphs" stroke="#111" stroke-width="0.45">20</text>
<line x1="686.90" y1="637.50" x2="694.50" y2="637.50" stroke="#000" stroke-width="2.4"/>
<text x="685.50" y="642.60" font-size="14.6" font-weight="bold" text-anchor="end" textLength="18.20" lengthAdjust="spacingAndGlyphs" stroke="#111" stroke-width="0.45">40</text>
<line x1="686.90" y1="600.00" x2="694.50" y2="600.00" stroke="#000" stroke-width="2.4"/>
<text x="685.50" y="605.10" font-size="14.6" font-weight="bold" text-anchor="end" textLength="18.20" lengthAdjust="spacingAndGlyphs" stroke="#111" stroke-width="0.45">60</text>
<line x1="686.90" y1="562.50" x2="694.50" y2="562.50" stroke="#000" stroke-width="2.4"/>
<text x="685.50" y="567.60" font-size="14.6" font-weight="bold" text-anchor="end" textLength="18.20" lengthAdjust="spacingAndGlyphs" stroke="#111" stroke-width="0.45">80</text>
<line x1="686.90" y1="525.00" x2="694.50" y2="525.00" stroke="#000" stroke-width="2.4"/>
<text x="685.50" y="530.10" font-size="14.6" font-weight="bold" text-anchor="end" textLength="27.30" lengthAdjust="spacingAndGlyphs" stroke="#111" stroke-width="0.45">100</text>
<line x1="736.80" y1="712.50" x2="736.80" y2="719.00" stroke="#000" stroke-width="2.4"/>
<g transform="translate(743.40,732.30) scale(1.19,0.9) rotate(-45)">
<text x="0" y="0" font-size="14.4" font-weight="bold" stroke="#111" stroke-width="0.15" text-anchor="end">1.05 X 10<tspan font-size="11" dx="0.9" dy="-8.35">-5</tspan></text>
</g>
<line x1="822.60" y1="712.50" x2="822.60" y2="719.00" stroke="#000" stroke-width="2.4"/>
<g transform="translate(826.60,732.30) scale(1.19,0.9) rotate(-45)">
<text x="0" y="0" font-size="14.4" font-weight="bold" stroke="#111" stroke-width="0.15" text-anchor="end">2.10 X 10<tspan font-size="11" dx="0.9" dy="-8.35">-5</tspan></text>
</g>
<line x1="908.80" y1="712.50" x2="908.80" y2="719.00" stroke="#000" stroke-width="2.4"/>
<g transform="translate(912.80,732.30) scale(1.19,0.9) rotate(-45)">
<text x="0" y="0" font-size="14.4" font-weight="bold" stroke="#111" stroke-width="0.15" text-anchor="end">3.15 X 10<tspan font-size="11" dx="0.9" dy="-8.35">-5</tspan></text>
</g>
<line x1="994.50" y1="712.50" x2="994.50" y2="719.00" stroke="#000" stroke-width="2.4"/>
<g transform="translate(998.50,732.30) scale(1.19,0.9) rotate(-45)">
<text x="0" y="0" font-size="14.4" font-weight="bold" stroke="#111" stroke-width="0.15" text-anchor="end">4.20 X 10<tspan font-size="11" dx="0.9" dy="-8.35">-5</tspan></text>
</g>
<g transform="translate(645.60,618.80) rotate(-90)"><text x="0.00" y="0.00" font-size="15.6" font-weight="bold" text-anchor="middle" textLength="157.70" lengthAdjust="spacingAndGlyphs" stroke="#111" stroke-width="0.35">Percentage of Inhibition</text></g>
<g transform="translate(720.50,802.00) scale(1.13,1)"><text x="0.00" y="0.00" font-size="12.8" font-weight="bold" text-anchor="start" textLength="234.51" lengthAdjust="spacing" stroke="#111" stroke-width="0.35">Concentration of Gentamycin (M)</text></g>
<rect x="1060.80" y="531.30" width="28.80" height="13.00" rx="1" fill="#000"/>
<rect x="1064.00" y="534.50" width="22.40" height="6.60" fill="url(#p_fine_3)"/>
<text x="1102.20" y="543.00" font-size="15.6" font-weight="normal" text-anchor="start" textLength="49.00" lengthAdjust="spacingAndGlyphs">E.Coli</text>
<rect x="1060.80" y="552.70" width="28.80" height="13.20" rx="1" fill="#000"/>
<rect x="1064.00" y="555.90" width="22.40" height="6.80" fill="url(#p_big_3)"/>
<text x="1102.20" y="564.60" font-size="15.6" font-weight="normal" text-anchor="start" textLength="71.50" lengthAdjust="spacingAndGlyphs">BNC22A</text>
<rect x="1060.80" y="574.20" width="28.80" height="13.10" rx="1" fill="#000"/>
<rect x="1064.00" y="577.40" width="22.40" height="6.70" fill="#fff"/>
<line x1="1064.00" y1="578.87" x2="1086.40" y2="578.87" stroke="#444" stroke-width="1.1"/>
<line x1="1064.00" y1="582.63" x2="1086.40" y2="582.63" stroke="#444" stroke-width="1.1"/>
<text x="1102.20" y="586.00" font-size="15.6" font-weight="normal" text-anchor="start" textLength="72.50" lengthAdjust="spacingAndGlyphs">BNC22C</text>
<rect x="5.3" y="873.8" width="560.5" height="375.0" fill="#fff" stroke="#484848" stroke-width="1.8"/>
<g transform="translate(162.80,905.20) scale(1.12,1)"><text x="0.00" y="0.00" font-size="18.2" font-weight="bold" text-anchor="start" textLength="121.96" lengthAdjust="spacing" stroke="#111" stroke-width="0.2">Streptomycin</text></g>
<rect x="87.50" y="949.30" width="12.00" height="191.00" fill="#000"/>
<rect x="90.50" y="952.30" width="6.00" height="188.00" fill="url(#p_fine_4)"/>
<rect x="101.90" y="1087.39" width="12.00" height="52.91" fill="#000"/>
<rect x="104.90" y="1090.39" width="6.00" height="49.91" fill="url(#p_big_4)"/>
<line x1="107.90" y1="1088.39" x2="107.90" y2="1085.67" stroke="#000" stroke-width="2.4"/>
<line x1="105.45" y1="1086.97" x2="110.35" y2="1086.97" stroke="#000" stroke-width="2.6" stroke-linecap="round"/>
<rect x="116.20" y="1101.53" width="12.00" height="38.77" fill="#000"/>
<rect x="119.20" y="1104.53" width="6.00" height="35.77" fill="url(#p_hstripe_4)"/>
<line x1="122.20" y1="1102.53" x2="122.20" y2="1099.62" stroke="#000" stroke-width="2.4"/>
<line x1="119.75" y1="1100.92" x2="124.65" y2="1100.92" stroke="#000" stroke-width="2.6" stroke-linecap="round"/>
<rect x="154.20" y="949.30" width="12.00" height="191.00" fill="#000"/>
<rect x="157.20" y="952.30" width="6.00" height="188.00" fill="url(#p_fine_4)"/>
<rect x="168.60" y="1038.12" width="12.00" height="102.18" fill="#000"/>
<rect x="171.60" y="1041.12" width="6.00" height="99.18" fill="url(#p_big_4)"/>
<line x1="174.60" y1="1039.12" x2="174.60" y2="1036.01" stroke="#000" stroke-width="2.4"/>
<line x1="172.15" y1="1037.31" x2="177.05" y2="1037.31" stroke="#000" stroke-width="2.6" stroke-linecap="round"/>
<rect x="182.90" y="1083.19" width="12.00" height="57.11" fill="#000"/>
<rect x="185.90" y="1086.19" width="6.00" height="54.11" fill="url(#p_hstripe_4)"/>
<line x1="188.90" y1="1084.19" x2="188.90" y2="1081.09" stroke="#000" stroke-width="2.4"/>
<line x1="186.45" y1="1082.39" x2="191.35" y2="1082.39" stroke="#000" stroke-width="2.6" stroke-linecap="round"/>
<rect x="220.80" y="949.30" width="12.00" height="191.00" fill="#000"/>
<rect x="223.80" y="952.30" width="6.00" height="188.00" fill="url(#p_fine_4)"/>
<rect x="235.20" y="1028.95" width="12.00" height="111.35" fill="#000"/>
<rect x="238.20" y="1031.95" width="6.00" height="108.35" fill="url(#p_big_4)"/>
<line x1="241.20" y1="1029.95" x2="241.20" y2="1027.04" stroke="#000" stroke-width="2.4"/>
<line x1="238.75" y1="1028.34" x2="243.65" y2="1028.34" stroke="#000" stroke-width="2.6" stroke-linecap="round"/>
<rect x="249.50" y="1052.25" width="12.00" height="88.05" fill="#000"/>
<rect x="252.50" y="1055.25" width="6.00" height="85.05" fill="url(#p_hstripe_4)"/>
<line x1="255.50" y1="1053.25" x2="255.50" y2="1050.34" stroke="#000" stroke-width="2.4"/>
<line x1="253.05" y1="1051.64" x2="257.95" y2="1051.64" stroke="#000" stroke-width="2.6" stroke-linecap="round"/>
<rect x="287.40" y="949.30" width="12.00" height="191.00" fill="#000"/>
<rect x="290.40" y="952.30" width="6.00" height="188.00" fill="url(#p_fine_4)"/>
<rect x="301.80" y="1018.25" width="12.00" height="122.05" fill="#000"/>
<rect x="304.80" y="1021.25" width="6.00" height="119.05" fill="url(#p_big_4)"/>
<line x1="307.80" y1="1019.25" x2="307.80" y2="1015.77" stroke="#000" stroke-width="2.4"/>
<line x1="305.35" y1="1017.07" x2="310.25" y2="1017.07" stroke="#000" stroke-width="2.6" stroke-linecap="round"/>
<rect x="316.10" y="1017.68" width="12.00" height="122.62" fill="#000"/>
<rect x="319.10" y="1020.68" width="6.00" height="119.62" fill="url(#p_hstripe_4)"/>
<line x1="322.10" y1="1018.68" x2="322.10" y2="1015.58" stroke="#000" stroke-width="2.4"/>
<line x1="319.65" y1="1016.88" x2="324.55" y2="1016.88" stroke="#000" stroke-width="2.6" stroke-linecap="round"/>
<rect x="353.80" y="949.30" width="12.00" height="191.00" fill="#000"/>
<rect x="356.80" y="952.30" width="6.00" height="188.00" fill="url(#p_fine_4)"/>
<rect x="368.20" y="964.01" width="12.00" height="176.29" fill="#000"/>
<rect x="371.20" y="967.01" width="6.00" height="173.29" fill="url(#p_big_4)"/>
<line x1="374.20" y1="965.01" x2="374.20" y2="949.68" stroke="#000" stroke-width="2.4"/>
<line x1="371.75" y1="950.98" x2="376.65" y2="950.98" stroke="#000" stroke-width="2.6" stroke-linecap="round"/>
<rect x="382.50" y="976.04" width="12.00" height="164.26" fill="#000"/>
<rect x="385.50" y="979.04" width="6.00" height="161.26" fill="url(#p_hstripe_4)"/>
<line x1="388.50" y1="977.04" x2="388.50" y2="968.78" stroke="#000" stroke-width="2.4"/>
<line x1="386.05" y1="970.08" x2="390.95" y2="970.08" stroke="#000" stroke-width="2.6" stroke-linecap="round"/>
<line x1="81.90" y1="948.10" x2="81.90" y2="1141.50" stroke="#000" stroke-width="2.4"/>
<line x1="74.30" y1="1140.30" x2="418.30" y2="1140.30" stroke="#000" stroke-width="2.4"/>
<text x="72.90" y="1145.40" font-size="14.6" font-weight="bold" text-anchor="end" textLength="8.70" lengthAdjust="spacingAndGlyphs" stroke="#111" stroke-width="0.45">0</text>
<line x1="74.30" y1="1102.10" x2="81.90" y2="1102.10" stroke="#000" stroke-width="2.4"/>
<text x="72.90" y="1107.20" font-size="14.6" font-weight="bold" text-anchor="end" textLength="17.40" lengthAdjust="spacingAndGlyphs" stroke="#111" stroke-width="0.45">20</text>
<line x1="74.30" y1="1063.90" x2="81.90" y2="1063.90" stroke="#000" stroke-width="2.4"/>
<text x="72.90" y="1069.00" font-size="14.6" font-weight="bold" text-anchor="end" textLength="17.40" lengthAdjust="spacingAndGlyphs" stroke="#111" stroke-width="0.45">40</text>
<line x1="74.30" y1="1025.70" x2="81.90" y2="1025.70" stroke="#000" stroke-width="2.4"/>
<text x="72.90" y="1030.80" font-size="14.6" font-weight="bold" text-anchor="end" textLength="17.40" lengthAdjust="spacingAndGlyphs" stroke="#111" stroke-width="0.45">60</text>
<line x1="74.30" y1="987.50" x2="81.90" y2="987.50" stroke="#000" stroke-width="2.4"/>
<text x="72.90" y="992.60" font-size="14.6" font-weight="bold" text-anchor="end" textLength="17.40" lengthAdjust="spacingAndGlyphs" stroke="#111" stroke-width="0.45">80</text>
<line x1="74.30" y1="949.30" x2="81.90" y2="949.30" stroke="#000" stroke-width="2.4"/>
<text x="72.90" y="954.40" font-size="14.6" font-weight="bold" text-anchor="end" textLength="26.10" lengthAdjust="spacingAndGlyphs" stroke="#111" stroke-width="0.45">100</text>
<line x1="114.40" y1="1140.30" x2="114.40" y2="1146.80" stroke="#000" stroke-width="2.4"/>
<g transform="translate(122.80,1160.60) scale(1.14,0.92) rotate(-45)">
<text x="0" y="0" font-size="15.0" font-weight="bold" stroke="#111" stroke-width="0.15" text-anchor="end">8.59 X 10<tspan font-size="11.4" dx="0.9" dy="-8.70">-6</tspan></text>
</g>
<line x1="181.40" y1="1140.30" x2="181.40" y2="1146.80" stroke="#000" stroke-width="2.4"/>
<g transform="translate(186.90,1160.60) scale(1.14,0.92) rotate(-45)">
<text x="0" y="0" font-size="15.0" font-weight="bold" stroke="#111" stroke-width="0.15" text-anchor="end">1.72 X 10<tspan font-size="11.4" dx="0.9" dy="-8.70">-5</tspan></text>
</g>
<line x1="248.00" y1="1140.30" x2="248.00" y2="1146.80" stroke="#000" stroke-width="2.4"/>
<g transform="translate(253.50,1160.60) scale(1.14,0.92) rotate(-45)">
<text x="0" y="0" font-size="15.0" font-weight="bold" stroke="#111" stroke-width="0.15" text-anchor="end">2.58 X 10<tspan font-size="11.4" dx="0.9" dy="-8.70">-5</tspan></text>
</g>
<line x1="314.50" y1="1140.30" x2="314.50" y2="1146.80" stroke="#000" stroke-width="2.4"/>
<g transform="translate(320.00,1160.60) scale(1.14,0.92) rotate(-45)">
<text x="0" y="0" font-size="15.0" font-weight="bold" stroke="#111" stroke-width="0.15" text-anchor="end">3.44 X 10<tspan font-size="11.4" dx="0.9" dy="-8.70">-5</tspan></text>
</g>
<line x1="381.00" y1="1140.30" x2="381.00" y2="1146.80" stroke="#000" stroke-width="2.4"/>
<g transform="translate(386.50,1160.60) scale(1.14,0.92) rotate(-45)">
<text x="0" y="0" font-size="15.0" font-weight="bold" stroke="#111" stroke-width="0.15" text-anchor="end">6.88 X 10<tspan font-size="11.4" dx="0.9" dy="-8.70">-5</tspan></text>
</g>
<g transform="translate(36.60,1044.30) rotate(-90)"><text x="0.00" y="0.00" font-size="15.6" font-weight="bold" text-anchor="middle" textLength="161.80" lengthAdjust="spacingAndGlyphs" stroke="#111" stroke-width="0.35">Percentage of Inhibition</text></g>
<g transform="translate(98.50,1232.00) scale(1.13,1)"><text x="0.00" y="0.00" font-size="13.2" font-weight="bold" text-anchor="start" textLength="235.93" lengthAdjust="spacing" stroke="#111" stroke-width="0.35">Concentration of streptomycin (M)</text></g>
<rect x="438.20" y="955.00" width="27.80" height="13.80" rx="1" fill="#000"/>
<rect x="441.40" y="958.20" width="21.40" height="7.40" fill="url(#p_fine_4)"/>
<text x="478.30" y="967.50" font-size="16" font-weight="normal" text-anchor="start" textLength="47.50" lengthAdjust="spacingAndGlyphs">E.Coli</text>
<rect x="438.20" y="976.80" width="27.80" height="13.80" rx="1" fill="#000"/>
<rect x="441.40" y="980.00" width="21.40" height="7.40" fill="url(#p_big_4)"/>
<text x="478.30" y="989.30" font-size="16" font-weight="normal" text-anchor="start" textLength="69.50" lengthAdjust="spacingAndGlyphs">BNC22A</text>
<rect x="438.20" y="998.60" width="27.80" height="13.80" rx="1" fill="#000"/>
<rect x="441.40" y="1001.80" width="21.40" height="7.40" fill="#fff"/>
<line x1="441.40" y1="1003.43" x2="462.80" y2="1003.43" stroke="#444" stroke-width="1.1"/>
<line x1="441.40" y1="1007.57" x2="462.80" y2="1007.57" stroke="#444" stroke-width="1.1"/>
<text x="478.30" y="1011.10" font-size="16" font-weight="normal" text-anchor="start" textLength="70.50" lengthAdjust="spacingAndGlyphs">BNC22C</text>
<rect x="596.3" y="874" width="596.0" height="374.79999999999995" fill="#fff" stroke="#484848" stroke-width="1.8"/>
<g transform="translate(765.60,907.00) scale(1.1,1)"><text x="0.00" y="0.00" font-size="19.5" font-weight="bold" text-anchor="start" textLength="124.55" lengthAdjust="spacing" stroke="#111" stroke-width="0.2">Polymyxin-B</text></g>
<rect x="683.05" y="931.85" width="6.80" height="201.85" fill="url(#p_fine_5)" stroke="#1a1a1a" stroke-width="1.1"/>
<rect x="693.05" y="967.27" width="7.20" height="166.43" fill="#dedede" stroke="#3c3c3c" stroke-width="1.1"/>
<line x1="696.65" y1="966.72" x2="696.65" y2="1133.70" stroke="#3c3c3c" stroke-width="1.1"/>
<line x1="696.65" y1="967.72" x2="696.65" y2="963.08" stroke="#000" stroke-width="2.2"/>
<line x1="694.50" y1="964.18" x2="698.80" y2="964.18" stroke="#000" stroke-width="2.2" stroke-linecap="round"/>
<rect x="702.20" y="977.85" width="9.80" height="155.85" fill="#000"/>
<rect x="705.40" y="981.05" width="3.40" height="152.65" fill="url(#p_dash)"/>
<line x1="707.10" y1="978.85" x2="707.10" y2="975.22" stroke="#000" stroke-width="2.2"/>
<line x1="704.95" y1="976.32" x2="709.25" y2="976.32" stroke="#000" stroke-width="2.2" stroke-linecap="round"/>
<rect x="742.25" y="931.85" width="6.80" height="201.85" fill="url(#p_fine_5)" stroke="#1a1a1a" stroke-width="1.1"/>
<rect x="752.25" y="954.32" width="7.20" height="179.38" fill="#dedede" stroke="#3c3c3c" stroke-width="1.1"/>
<line x1="755.85" y1="953.77" x2="755.85" y2="1133.70" stroke="#3c3c3c" stroke-width="1.1"/>
<line x1="755.85" y1="954.77" x2="755.85" y2="950.53" stroke="#000" stroke-width="2.2"/>
<line x1="753.70" y1="951.63" x2="758.00" y2="951.63" stroke="#000" stroke-width="2.2" stroke-linecap="round"/>
<rect x="761.40" y="970.77" width="9.80" height="162.93" fill="#000"/>
<rect x="764.60" y="973.97" width="3.40" height="159.73" fill="url(#p_dash)"/>
<line x1="766.30" y1="971.77" x2="766.30" y2="967.93" stroke="#000" stroke-width="2.2"/>
<line x1="764.15" y1="969.03" x2="768.45" y2="969.03" stroke="#000" stroke-width="2.2" stroke-linecap="round"/>
<rect x="801.35" y="931.85" width="6.80" height="201.85" fill="url(#p_fine_5)" stroke="#1a1a1a" stroke-width="1.1"/>
<rect x="811.35" y="952.29" width="7.20" height="181.41" fill="#dedede" stroke="#3c3c3c" stroke-width="1.1"/>
<line x1="814.95" y1="951.74" x2="814.95" y2="1133.70" stroke="#3c3c3c" stroke-width="1.1"/>
<line x1="814.95" y1="952.74" x2="814.95" y2="949.92" stroke="#000" stroke-width="2.2"/>
<line x1="812.80" y1="951.02" x2="817.10" y2="951.02" stroke="#000" stroke-width="2.2" stroke-linecap="round"/>
<rect x="820.50" y="970.36" width="9.80" height="163.34" fill="#000"/>
<rect x="823.70" y="973.56" width="3.40" height="160.14" fill="url(#p_dash)"/>
<line x1="825.40" y1="971.36" x2="825.40" y2="968.54" stroke="#000" stroke-width="2.2"/>
<line x1="823.25" y1="969.64" x2="827.55" y2="969.64" stroke="#000" stroke-width="2.2" stroke-linecap="round"/>
<rect x="860.45" y="931.85" width="6.80" height="201.85" fill="url(#p_fine_5)" stroke="#1a1a1a" stroke-width="1.1"/>
<rect x="870.45" y="949.05" width="7.20" height="184.65" fill="#dedede" stroke="#3c3c3c" stroke-width="1.1"/>
<line x1="874.05" y1="948.50" x2="874.05" y2="1133.70" stroke="#3c3c3c" stroke-width="1.1"/>
<line x1="874.05" y1="949.50" x2="874.05" y2="946.28" stroke="#000" stroke-width="2.2"/>
<line x1="871.90" y1="947.38" x2="876.20" y2="947.38" stroke="#000" stroke-width="2.2" stroke-linecap="round"/>
<rect x="879.60" y="968.95" width="9.80" height="164.75" fill="#000"/>
<rect x="882.80" y="972.15" width="3.40" height="161.55" fill="url(#p_dash)"/>
<line x1="884.50" y1="969.95" x2="884.50" y2="967.33" stroke="#000" stroke-width="2.2"/>
<line x1="882.35" y1="968.43" x2="886.65" y2="968.43" stroke="#000" stroke-width="2.2" stroke-linecap="round"/>
<rect x="919.55" y="931.85" width="6.80" height="201.85" fill="url(#p_fine_5)" stroke="#1a1a1a" stroke-width="1.1"/>
<rect x="929.55" y="931.85" width="7.20" height="201.85" fill="#dedede" stroke="#3c3c3c" stroke-width="1.1"/>
<line x1="933.15" y1="931.30" x2="933.15" y2="1133.70" stroke="#3c3c3c" stroke-width="1.1"/>
<rect x="938.70" y="952.35" width="9.80" height="181.35" fill="#000"/>
<rect x="941.90" y="955.55" width="3.40" height="178.15" fill="url(#p_dash)"/>
<line x1="943.60" y1="953.35" x2="943.60" y2="943.04" stroke="#000" stroke-width="2.2"/>
<line x1="941.45" y1="944.14" x2="945.75" y2="944.14" stroke="#000" stroke-width="2.2" stroke-linecap="round"/>
<rect x="978.65" y="931.85" width="6.80" height="201.85" fill="url(#p_fine_5)" stroke="#1a1a1a" stroke-width="1.1"/>
<rect x="988.65" y="931.85" width="7.20" height="201.85" fill="#dedede" stroke="#3c3c3c" stroke-width="1.1"/>
<line x1="992.25" y1="931.30" x2="992.25" y2="1133.70" stroke="#3c3c3c" stroke-width="1.1"/>
<rect x="997.80" y="931.30" width="9.80" height="202.40" fill="#000"/>
<rect x="1001.00" y="934.50" width="3.40" height="199.20" fill="url(#p_dash)"/>
<line x1="678.30" y1="930.10" x2="678.30" y2="1134.90" stroke="#000" stroke-width="2.4"/>
<line x1="670.70" y1="1133.70" x2="1033.70" y2="1133.70" stroke="#000" stroke-width="2.4"/>
<text x="669.30" y="1139.20" font-size="15.8" font-weight="bold" text-anchor="end" textLength="9.20" lengthAdjust="spacingAndGlyphs" stroke="#111" stroke-width="0.45">0</text>
<line x1="670.70" y1="1093.22" x2="678.30" y2="1093.22" stroke="#000" stroke-width="2.4"/>
<text x="669.30" y="1098.72" font-size="15.8" font-weight="bold" text-anchor="end" textLength="18.40" lengthAdjust="spacingAndGlyphs" stroke="#111" stroke-width="0.45">20</text>
<line x1="670.70" y1="1052.74" x2="678.30" y2="1052.74" stroke="#000" stroke-width="2.4"/>
<text x="669.30" y="1058.24" font-size="15.8" font-weight="bold" text-anchor="end" textLength="18.40" lengthAdjust="spacingAndGlyphs" stroke="#111" stroke-width="0.45">40</text>
<line x1="670.70" y1="1012.26" x2="678.30" y2="1012.26" stroke="#000" stroke-width="2.4"/>
<text x="669.30" y="1017.76" font-size="15.8" font-weight="bold" text-anchor="end" textLength="18.40" lengthAdjust="spacingAndGlyphs" stroke="#111" stroke-width="0.45">60</text>
<line x1="670.70" y1="971.78" x2="678.30" y2="971.78" stroke="#000" stroke-width="2.4"/>
<text x="669.30" y="977.28" font-size="15.8" font-weight="bold" text-anchor="end" textLength="18.40" lengthAdjust="spacingAndGlyphs" stroke="#111" stroke-width="0.45">80</text>
<line x1="670.70" y1="931.30" x2="678.30" y2="931.30" stroke="#000" stroke-width="2.4"/>
<text x="669.30" y="936.80" font-size="15.8" font-weight="bold" text-anchor="end" textLength="27.60" lengthAdjust="spacingAndGlyphs" stroke="#111" stroke-width="0.45">100</text>
<line x1="706.90" y1="1133.70" x2="706.90" y2="1140.20" stroke="#000" stroke-width="2.4"/>
<g transform="translate(713.90,1155.90) scale(1.19,1) rotate(-45)">
<text x="0" y="0" font-size="14.9" font-weight="bold" stroke="#111" stroke-width="0.15" text-anchor="end">4.17 X 10<tspan font-size="11.4" dx="0.9" dy="-8.64">-6</tspan></text>
</g>
<line x1="766.10" y1="1133.70" x2="766.10" y2="1140.20" stroke="#000" stroke-width="2.4"/>
<g transform="translate(770.10,1155.90) scale(1.19,1) rotate(-45)">
<text x="0" y="0" font-size="14.9" font-weight="bold" stroke="#111" stroke-width="0.15" text-anchor="end">8.33 X 10<tspan font-size="11.4" dx="0.9" dy="-8.64">-6</tspan></text>
</g>
<line x1="825.30" y1="1133.70" x2="825.30" y2="1140.20" stroke="#000" stroke-width="2.4"/>
<g transform="translate(829.30,1155.90) scale(1.19,1) rotate(-45)">
<text x="0" y="0" font-size="14.9" font-weight="bold" stroke="#111" stroke-width="0.15" text-anchor="end">1.25 X 10<tspan font-size="11.4" dx="0.9" dy="-8.64">-5</tspan></text>
</g>
<line x1="884.30" y1="1133.70" x2="884.30" y2="1140.20" stroke="#000" stroke-width="2.4"/>
<g transform="translate(888.30,1155.90) scale(1.19,1) rotate(-45)">
<text x="0" y="0" font-size="14.9" font-weight="bold" stroke="#111" stroke-width="0.15" text-anchor="end">1.67 X 10<tspan font-size="11.4" dx="0.9" dy="-8.64">-5</tspan></text>
</g>
<line x1="943.40" y1="1133.70" x2="943.40" y2="1140.20" stroke="#000" stroke-width="2.4"/>
<g transform="translate(947.40,1155.90) scale(1.19,1) rotate(-45)">
<text x="0" y="0" font-size="14.9" font-weight="bold" stroke="#111" stroke-width="0.15" text-anchor="end">2.50 X 10<tspan font-size="11.4" dx="0.9" dy="-8.64">-5</tspan></text>
</g>
<line x1="1002.60" y1="1133.70" x2="1002.60" y2="1140.20" stroke="#000" stroke-width="2.4"/>
<g transform="translate(1006.60,1155.90) scale(1.19,1) rotate(-45)">
<text x="0" y="0" font-size="14.9" font-weight="bold" stroke="#111" stroke-width="0.15" text-anchor="end">3.35 X 10<tspan font-size="11.4" dx="0.9" dy="-8.64">-5</tspan></text>
</g>
<g transform="translate(628.20,1031.80) rotate(-90)"><text x="0.00" y="0.00" font-size="15.6" font-weight="bold" text-anchor="middle" textLength="171.80" lengthAdjust="spacingAndGlyphs" stroke="#111" stroke-width="0.35">Percentage of Inhibition</text></g>
<g transform="translate(705.90,1230.70) scale(1.13,1)"><text x="0.00" y="0.00" font-size="14.3" font-weight="bold" text-anchor="start" textLength="228.32" lengthAdjust="spacing" stroke="#111" stroke-width="0.35">Concentration of Polymyxin (M)</text></g>
<rect x="1058.60" y="939.30" width="26.20" height="11.40" fill="url(#p_fine_5)" stroke="#222" stroke-width="1.2"/>
<text x="1100.00" y="950.70" font-size="17.7" font-weight="normal" text-anchor="start" textLength="50.50" lengthAdjust="spacingAndGlyphs">E.Coli</text>
<rect x="1058.60" y="962.60" width="26.20" height="11.10" fill="#fff" stroke="#333" stroke-width="1.2"/>
<line x1="1064.85" y1="962.00" x2="1064.85" y2="974.30" stroke="#333" stroke-width="1.2"/>
<line x1="1071.70" y1="962.00" x2="1071.70" y2="974.30" stroke="#333" stroke-width="1.2"/>
<line x1="1078.55" y1="962.00" x2="1078.55" y2="974.30" stroke="#333" stroke-width="1.2"/>
<text x="1100.00" y="973.70" font-size="17.7" font-weight="normal" text-anchor="start" textLength="73.50" lengthAdjust="spacingAndGlyphs">BNC22A</text>
<rect x="1057.30" y="984.00" width="28.80" height="14.30" rx="1.4" fill="#000"/>
<rect x="1060.40" y="986.90" width="22.60" height="8.50" fill="#fff"/>
<line x1="1060.40" y1="989.70" x2="1083.00" y2="989.70" stroke="#888" stroke-width="1.2"/>
<line x1="1060.40" y1="994.21" x2="1083.00" y2="994.21" stroke="#222" stroke-width="1.1"/>
<text x="1100.00" y="996.70" font-size="17.7" font-weight="normal" text-anchor="start" textLength="74.50" lengthAdjust="spacingAndGlyphs">BNC22C</text>
</g>
</svg></body></html>
